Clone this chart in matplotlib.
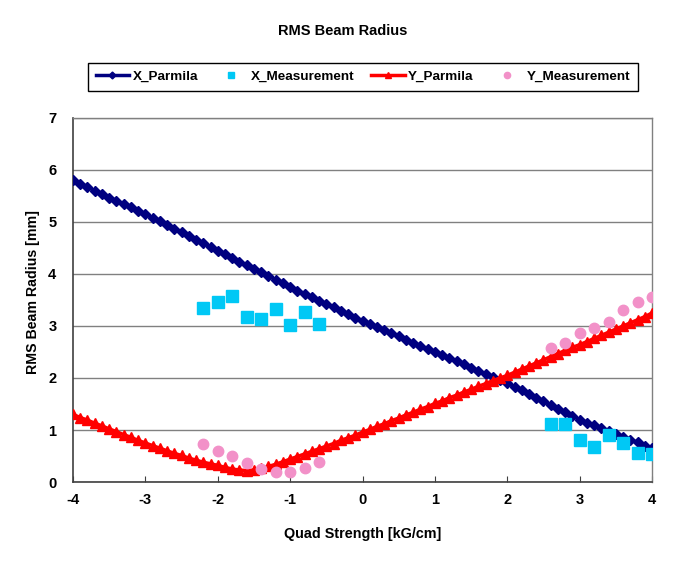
import matplotlib
matplotlib.use("Agg")
import matplotlib.pyplot as plt
from matplotlib.lines import Line2D

plt.rcParams['font.family'] = ['Liberation Sans', 'DejaVu Sans']
plt.rcParams['axes.unicode_minus'] = False

quad = [-4.0, -3.9, -3.8, -3.7, -3.6, -3.5, -3.4, -3.3, -3.2, -3.1,
        -3.0, -2.9, -2.8, -2.7, -2.6, -2.5, -2.4, -2.3, -2.2, -2.1,
        -2.0, -1.9, -1.8, -1.7, -1.6, -1.5, -1.4, -1.3, -1.2, -1.1,
        -1.0, -0.9, -0.8, -0.7, -0.6, -0.5, -0.4, -0.3, -0.2, -0.1,
        0.0, 0.1, 0.2, 0.3, 0.4, 0.5, 0.6, 0.7, 0.8, 0.9,
        1.0, 1.1, 1.2, 1.3, 1.4, 1.5, 1.6, 1.7, 1.8, 1.9,
        2.0, 2.1, 2.2, 2.3, 2.4, 2.5, 2.6, 2.7, 2.8, 2.9,
        3.0, 3.1, 3.2, 3.3, 3.4, 3.5, 3.6, 3.7, 3.8, 3.9, 4.0]

x_parmila = [5.80, 5.73, 5.67, 5.60, 5.54, 5.47, 5.41, 5.34, 5.28, 5.21,
             5.15, 5.08, 5.01, 4.94, 4.87, 4.80, 4.73, 4.66, 4.59, 4.52,
             4.45, 4.38, 4.31, 4.24, 4.17, 4.10, 4.03, 3.96, 3.89, 3.82,
             3.75, 3.68, 3.62, 3.55, 3.49, 3.42, 3.36, 3.29, 3.23, 3.16,
             3.10, 3.04, 2.98, 2.92, 2.86, 2.80, 2.74, 2.68, 2.62, 2.56,
             2.50, 2.44, 2.38, 2.32, 2.26, 2.20, 2.14, 2.08, 2.02, 1.96,
             1.90, 1.83, 1.76, 1.69, 1.62, 1.55, 1.48, 1.41, 1.34, 1.27,
             1.20, 1.14, 1.09, 1.03, 0.98, 0.92, 0.87, 0.81, 0.76, 0.70, 0.65]

y_parmila = [1.30, 1.24, 1.19, 1.13, 1.08, 1.02, 0.97, 0.91, 0.86, 0.80,
             0.75, 0.70, 0.65, 0.60, 0.55, 0.51, 0.46, 0.42, 0.38, 0.35,
             0.32, 0.28, 0.25, 0.23, 0.22, 0.23, 0.26, 0.30, 0.34, 0.39,
             0.44, 0.49, 0.54, 0.59, 0.64, 0.69, 0.74, 0.80, 0.85, 0.90,
             0.96, 1.01, 1.07, 1.12, 1.18, 1.23, 1.29, 1.34, 1.40, 1.45,
             1.51, 1.56, 1.62, 1.67, 1.73, 1.78, 1.84, 1.89, 1.95, 2.00,
             2.05, 2.11, 2.17, 2.23, 2.29, 2.35, 2.41, 2.47, 2.53, 2.59,
             2.64, 2.70, 2.76, 2.82, 2.88, 2.94, 3.00, 3.06, 3.12, 3.18, 3.25]

meas_q = [-2.2, -2.0, -1.8, -1.6, -1.4, -1.2, -1.0, -0.8, -0.6,
          2.6, 2.8, 3.0, 3.2, 3.4, 3.6, 3.8, 4.0]
x_meas = [3.35, 3.46, 3.58, 3.18, 3.13, 3.33, 3.02, 3.27, 3.04,
          1.12, 1.12, 0.80, 0.68, 0.90, 0.75, 0.55, 0.54]
y_meas = [0.73, 0.60, 0.50, 0.37, 0.25, 0.19, 0.20, 0.27, 0.39,
          2.58, 2.68, 2.87, 2.96, 3.08, 3.31, 3.46, 3.56]

NAVY = '#000080'
CYAN = '#00C8F5'
RED = '#FF0000'
PINK = '#F291C8'

fig = plt.figure(figsize=(6.78, 5.68), dpi=100)
ax = fig.add_axes([0.1077, 0.1514, 0.8540, 0.6409])

ax.plot(quad, x_parmila, color=NAVY, lw=2.5, marker='D', ms=5, mec=NAVY, mfc=NAVY, zorder=3)
ax.plot(meas_q, x_meas, ls='none', marker='s', ms=8, color=CYAN, mec=CYAN, zorder=4)
ax.plot(quad, y_parmila, color=RED, lw=2.5, marker='^', ms=7, mec=RED, mfc=RED, zorder=5)
ax.plot(meas_q, y_meas, ls='none', marker='o', ms=7.5, color=PINK, mec=PINK, zorder=6)

ax.set_xlim(-4, 4)
ax.set_ylim(0, 7)
ax.set_xticks([-4, -3, -2, -1, 0, 1, 2, 3, 4])
ax.set_yticks([0, 1, 2, 3, 4, 5, 6, 7])
ax.yaxis.grid(True, color='#808080', lw=1)
ax.set_axisbelow(True)
for s in ['left', 'bottom']:
    ax.spines[s].set_color('#404040')
    ax.spines[s].set_linewidth(1.2)
for s in ['top', 'right']:
    ax.spines[s].set_color('#808080')
    ax.spines[s].set_linewidth(1)
ax.tick_params(axis='x', direction='in', length=4, color='#404040', pad=8)
ax.tick_params(axis='y', direction='out', length=0, pad=12)
for lab in ax.get_xticklabels() + ax.get_yticklabels():
    lab.set_fontweight('bold')
    lab.set_fontsize(10.5)

ax.set_xlabel('Quad Strength [kG/cm]', fontsize=10.4, fontweight='bold', labelpad=14)
ax.set_ylabel('RMS Beam Radius [mm]', fontsize=10.2, fontweight='bold', labelpad=6, y=0.522)
fig.text(0.505, 0.945, 'RMS Beam Radius', ha='center', va='center', fontsize=10.5, fontweight='bold')

handles = [
    Line2D([], [], color=NAVY, lw=2.5, marker='D', ms=3.5),
    Line2D([], [], ls='none', marker='s', ms=4, color=CYAN),
    Line2D([], [], color=RED, lw=2.5, marker='^', ms=5),
    Line2D([], [], ls='none', marker='o', ms=4.5, color=PINK),
]
labels = ['X_Parmila', 'X_Measurement', 'Y_Parmila', 'Y_Measurement']
leg = fig.legend(handles, labels, loc='center', bbox_to_anchor=(0.5354, 0.8645), ncol=4,
                 frameon=True, fancybox=False, edgecolor='black', framealpha=1,
                 prop={'weight': 'bold', 'size': 9.7}, handlelength=2.5,
                 handletextpad=0.25, columnspacing=1.2, borderpad=0.55)
leg.get_frame().set_linewidth(1)

fig.savefig('out.png', dpi=100)
